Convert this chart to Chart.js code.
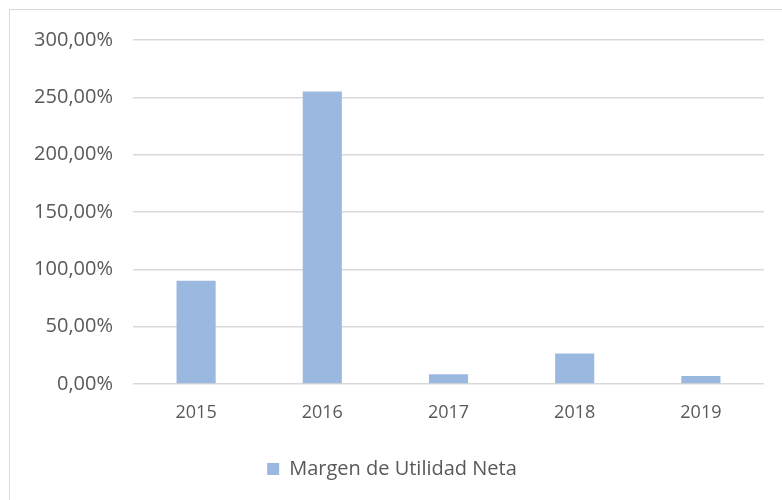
<!DOCTYPE html>
<html>
<head>
<meta charset="utf-8">
<script src="https://cdn.jsdelivr.net/npm/chart.js@4"></script>
<style>
  html, body { margin: 0; padding: 0; background: #fff; overflow: hidden; }
  .frame {
    position: absolute; left: 9px; top: 9px;
    width: 773px; height: 491px;
    border-left: 1px solid #d9d9d9; border-top: 1px solid #d9d9d9;
  }
</style>
</head>
<body>
<div class="frame"><canvas id="myChart" width="773" height="491"></canvas></div>
<script>
// data
let years = ["2015", "2016", "2017", "2018", "2019"];
let margenNeta = [90.0, 255.0, 8.4, 26.7, 7.0];
let yTicks = [0, 50, 100, 150, 200, 250, 300];

let fontFamily = "'Open Sans', 'Liberation Sans', sans-serif";
let textColor = "#595959";

let ctx = document.getElementById("myChart").getContext("2d");
let myChart = new Chart(ctx, {
  type: "bar",
  data: {
    labels: years,
    datasets: [
      {
        label: "Margen de Utilidad Neta",
        data: margenNeta,
        backgroundColor: "#9bb9e0",
        borderWidth: 0,
        barPercentage: 0.62,
        categoryPercentage: 0.5,
      },
    ],
  },
  options: {
    responsive: false,
    animation: false,
    layout: {
      padding: { top: 16, right: 19, bottom: 12, left: 10 },
    },
    plugins: {
      tooltip: { enabled: false },
      legend: {
        position: "bottom",
        labels: {
          boxWidth: 12,
          boxHeight: 12,
          padding: 10,
          color: textColor,
          font: { family: fontFamily, size: 20 },
        },
      },
    },
    scales: {
      x: {
        grid: { display: false },
        border: { display: false },
        ticks: {
          padding: 10,
          color: textColor,
          font: { family: fontFamily, size: 18 },
        },
        afterFit: (scale) => {
          scale.height = 65;
        },
      },
      y: {
        min: 0,
        max: 300,
        border: { display: false },
        grid: {
          color: "#d9d9d9",
          lineWidth: 1.5,
          drawTicks: false,
        },
        afterBuildTicks: (scale) => {
          scale.ticks = yTicks.map((v) => ({ value: v }));
        },
        ticks: {
          padding: 20,
          color: textColor,
          font: { family: fontFamily, size: 20, lineHeight: 1 },
          callback: (v) => v.toFixed(2).replace(".", ",") + "%",
        },
        afterFit: (scale) => {
          scale.width = 113;
        },
      },
    },
  },
});
</script>
</body>
</html>
